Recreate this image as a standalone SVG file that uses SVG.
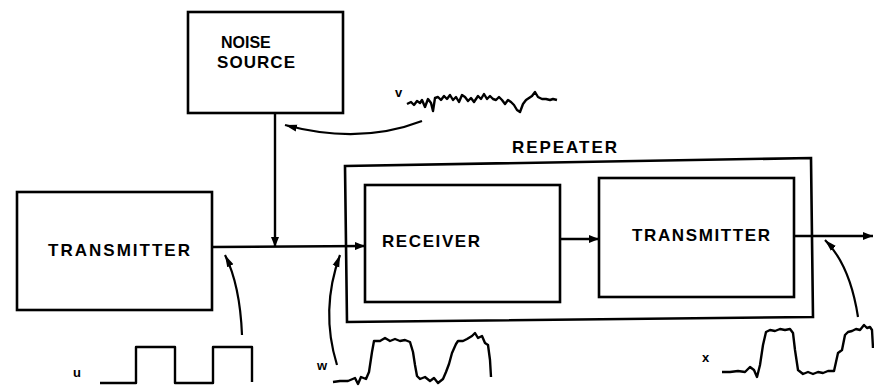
<svg xmlns="http://www.w3.org/2000/svg" width="874" height="387" viewBox="0 0 874 387">
<style>
.box{fill:none;stroke:#000;stroke-width:2.6}
.ln{fill:none;stroke:#000;stroke-width:2.4}
.cv{fill:none;stroke:#000;stroke-width:2.2}
.wv{fill:none;stroke:#000;stroke-width:2.4;stroke-linejoin:round}
.t{font-family:"Liberation Sans",Arial,sans-serif;font-size:17px;font-weight:bold;fill:#000}
.lb{font-family:"Liberation Sans",Arial,sans-serif;font-size:13px;font-weight:bold;fill:#000}
</style>
<defs>
<marker id="ah" viewBox="0 0 10 8" refX="10" refY="4" markerWidth="10" markerHeight="8" markerUnits="userSpaceOnUse" orient="auto">
<path d="M0 0 L10 4 L0 8 Z" fill="#000"/>
</marker>
<marker id="ahc" viewBox="0 0 12 8" refX="12" refY="4" markerWidth="12" markerHeight="8" markerUnits="userSpaceOnUse" orient="auto">
<path d="M0 0.5 L12 4 L0 7.5 Z" fill="#000"/>
</marker>
</defs>
<g id="noise-source">
<rect class="box" x="188" y="12" width="155" height="101"/>
<text class="t" x="221" y="48" style="font-size:16px">NOISE</text>
<text class="t" x="217" y="68" textLength="78" lengthAdjust="spacing">SOURCE</text>
</g>
<g id="transmitter">
<rect class="box" x="17" y="192" width="195" height="118"/>
<text class="t" x="48" y="256" textLength="142" lengthAdjust="spacing">TRANSMITTER</text>
</g>
<g id="repeater">
<path class="box" d="M345 166 L811 158 L813 317 L347 322 Z"/>
<text class="t" x="512" y="153" textLength="105" lengthAdjust="spacing">REPEATER</text>
</g>
<g id="receiver">
<rect class="box" x="365" y="185" width="195" height="117"/>
<text class="t" x="382" y="247" textLength="98" lengthAdjust="spacing">RECEIVER</text>
</g>
<g id="repeater-transmitter">
<rect class="box" x="599" y="178" width="195" height="119"/>
<text class="t" x="632" y="241" textLength="138" lengthAdjust="spacing">TRANSMITTER</text>
</g>
<g id="connectors">
<line class="ln" x1="212" y1="247" x2="365" y2="246" marker-end="url(#ah)"/>
<line class="ln" x1="275" y1="113" x2="275" y2="247" marker-end="url(#ah)"/>
<line class="ln" x1="560" y1="239" x2="599" y2="239" marker-end="url(#ah)"/>
<line class="ln" x1="794" y1="236" x2="873" y2="236" marker-end="url(#ah)"/>
<path class="cv" d="M422 121 Q360 145 285 125" marker-end="url(#ahc)"/>
<path class="cv" d="M242 335 Q240 285 225 255" marker-end="url(#ahc)"/>
<path class="cv" d="M337 365 Q320 310 340 255" marker-end="url(#ahc)"/>
<path class="cv" d="M858 317 Q850 265 825 240" marker-end="url(#ahc)"/>
</g>
<g id="waveforms">
<path class="wv" d="M407 104 L411 102 L414 105 L417 101 L420 103 L422 100 L425 107 L428 99 L431 103 L433 111 L435 98 L438 97 L441 100 L444 96 L447 99 L450 95 L453 100 L456 97 L459 102 L462 95 L465 97 L468 101 L471 98 L474 102 L478 96 L481 99 L484 94 L487 99 L490 96 L493 99 L496 100 L499 97 L502 100 L505 104 L508 100 L511 102 L514 105 L517 110 L520 112 L523 104 L526 100 L529 98 L532 96 L535 92 L538 97 L542 99 L546 99 L550 100 L553 99 L557 100"/>
<path class="wv" d="M100 383 H136 V347 H175 V383 H213 V347 H252 V382"/>
<path class="wv" d="M333 382 L340 381 L348 381 L355 378 L358 384 L361 377 L366 379 L369 372 L372 352 L374 341 L380 341 L385 338 L390 341 L395 339 L400 341 L405 340 L410 342 L413 352 L415 365 L417 376 L420 379 L425 377 L430 381 L434 378 L438 383 L443 379 L446 372 L449 364 L452 353 L456 344 L458 341 L463 341 L467 339 L472 336 L475 333 L478 338 L482 336 L485 343 L488 345 L490 360 L491 377"/>
<path class="wv" d="M722 372 L730 372 L738 371 L745 372 L750 367 L754 370 L757 377 L760 365 L763 345 L766 332 L770 330 L775 331 L780 329 L785 330 L790 329 L793 333 L795 350 L798 370 L803 374 L808 372 L813 374 L818 372 L823 373 L828 371 L834 371 L836 362 L838 353 L842 350 L845 335 L848 332 L852 331 L856 329 L860 330 L864 325 L867 328 L870 327 L872 330 L873 348"/>
</g>
<g id="labels">
<text class="lb" x="395" y="97">v</text>
<text class="lb" x="73" y="377">u</text>
<text class="lb" x="317" y="370">w</text>
<text class="lb" x="702" y="362">x</text>
</g>
</svg>
